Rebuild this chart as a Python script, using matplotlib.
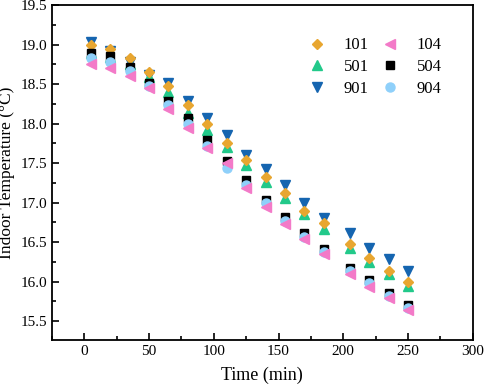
import matplotlib.pyplot as plt
from matplotlib.ticker import MultipleLocator

plt.rcParams['font.family'] = ['Liberation Serif', 'DejaVu Serif']

time = [5, 20, 35, 50, 65, 80, 95, 110, 125, 140, 155, 170, 185, 205, 220, 235, 250]

t101 = [18.99, 18.95, 18.83, 18.65, 18.48, 18.23, 18.00, 17.75, 17.54, 17.32, 17.12, 16.90, 16.74, 16.48, 16.30, 16.14, 15.99]
t501 = [18.89, 18.84, 18.76, 18.59, 18.40, 18.14, 17.92, 17.70, 17.47, 17.26, 17.06, 16.86, 16.67, 16.43, 16.25, 16.10, 15.95]
t901 = [19.03, 18.92, 18.78, 18.61, 18.51, 18.29, 18.07, 17.85, 17.60, 17.42, 17.22, 16.99, 16.80, 16.61, 16.43, 16.28, 16.14]
t104 = [18.76, 18.70, 18.60, 18.45, 18.19, 17.95, 17.69, 17.50, 17.19, 16.95, 16.73, 16.54, 16.35, 16.10, 15.93, 15.79, 15.64]
t504 = [18.89, 18.86, 18.71, 18.52, 18.29, 18.07, 17.79, 17.53, 17.28, 17.03, 16.82, 16.61, 16.41, 16.17, 16.02, 15.86, 15.71]
t904 = [18.83, 18.78, 18.67, 18.48, 18.23, 18.00, 17.72, 17.44, 17.22, 16.99, 16.77, 16.56, 16.37, 16.14, 15.98, 15.82, 15.67]

fig = plt.figure(figsize=(4.84, 3.9), dpi=100)
ax = fig.add_axes([0.107, 0.128, 0.870, 0.859])

ms = 6.5
h901, = ax.plot(time, t901, 'v', color='#1565b0', ms=ms, ls='none', label='901')
h501, = ax.plot(time, t501, '^', color='#22c98a', ms=ms, ls='none', label='501')
h101, = ax.plot(time, t101, 'D', color='#e8a630', ms=5.5, ls='none', label='101')
h504, = ax.plot(time, t504, 's', color='black', ms=5.5, ls='none', label='504')
h904, = ax.plot(time, t904, 'o', color='#8fd0fa', ms=ms, ls='none', label='904')
h104, = ax.plot(time, t104, '<', color='#f37ac8', ms=ms, ls='none', label='104')

ax.set_xlim(-25, 300)
ax.set_ylim(15.26, 19.5)
ax.xaxis.set_major_locator(MultipleLocator(50))
ax.xaxis.set_minor_locator(MultipleLocator(25))
ax.yaxis.set_major_locator(MultipleLocator(0.5))
ax.yaxis.set_minor_locator(MultipleLocator(0.25))
ax.tick_params(which='both', direction='in', labelsize=11, width=1.2)
ax.tick_params(which='major', length=5)
ax.tick_params(which='minor', length=3)
for s in ax.spines.values():
    s.set_linewidth(1.3)

ax.set_xlabel('Time (min)', fontsize=13, labelpad=6)
ax.set_ylabel('Indoor Temperature (°C)', fontsize=12.5, labelpad=4)

ax.legend(handles=[h101, h501, h901, h104, h504, h904], ncol=2, frameon=False,
          fontsize=12, loc='upper right', bbox_to_anchor=(0.962, 0.948),
          handlelength=1.0, handletextpad=1.1, columnspacing=0.8, labelspacing=0.35)

fig.savefig('out.png', dpi=100)
